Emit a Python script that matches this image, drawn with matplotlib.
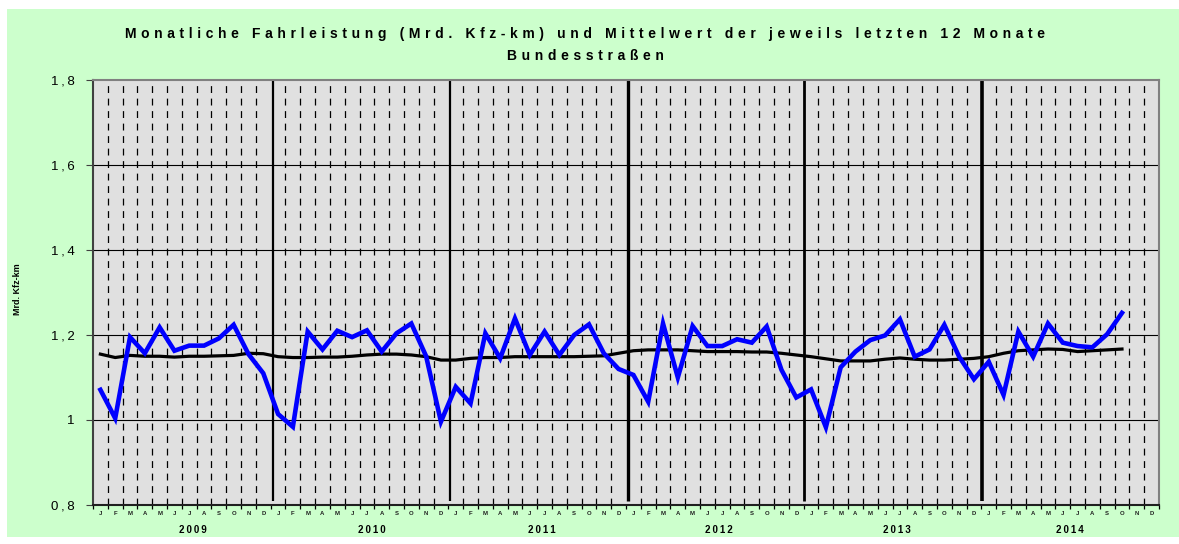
import matplotlib
matplotlib.use('Agg')
import matplotlib.pyplot as plt
from matplotlib.patches import Rectangle
import numpy as np

# ---------------- data ----------------
month_letters = ['J', 'F', 'M', 'A', 'M', 'J', 'J', 'A', 'S', 'O', 'N', 'D']
years = ['2009', '2010', '2011', '2012', '2013', '2014']

monthly = [1.071, 1.004, 1.195, 1.157, 1.218, 1.163, 1.175, 1.175, 1.192, 1.224, 1.155, 1.110,
           1.014, 0.984, 1.208, 1.166, 1.210, 1.195, 1.211, 1.161, 1.204, 1.227, 1.150, 0.996,
           1.078, 1.039, 1.204, 1.145, 1.239, 1.153, 1.208, 1.153, 1.200, 1.225, 1.157, 1.120,
           1.106, 1.043, 1.227, 1.100, 1.221, 1.174, 1.174, 1.190, 1.182, 1.220, 1.118, 1.053,
           1.072, 0.983, 1.124, 1.161, 1.188, 1.199, 1.237, 1.149, 1.166, 1.224, 1.149, 1.096,
           1.137, 1.059, 1.208, 1.149, 1.227, 1.182, 1.174, 1.171, 1.202, 1.252]

mean12 = [1.155, 1.147, 1.152, 1.150, 1.150, 1.148, 1.150, 1.150, 1.151, 1.152, 1.157, 1.156,
          1.149, 1.147, 1.147, 1.148, 1.148, 1.150, 1.153, 1.155, 1.155, 1.153, 1.149, 1.141,
          1.141, 1.145, 1.147, 1.147, 1.149, 1.149, 1.149, 1.149, 1.149, 1.150, 1.151, 1.157,
          1.163, 1.165, 1.165, 1.165, 1.163, 1.161, 1.161, 1.161, 1.160, 1.160, 1.157, 1.153,
          1.149, 1.144, 1.139, 1.139, 1.139, 1.143, 1.146, 1.143, 1.141, 1.141, 1.143, 1.145,
          1.149, 1.157, 1.163, 1.165, 1.167, 1.166, 1.161, 1.163, 1.165, 1.167]

y_ticks = [0.8, 1.0, 1.2, 1.4, 1.6, 1.8]
y_tick_labels = ['0,8', '1', '1,2', '1,4', '1,6', '1,8']

title_line1 = 'Monatliche Fahrleistung (Mrd. Kfz-km) und Mittelwert der jeweils letzten 12 Monate'
title_line2 = 'Bundesstraßen'
y_label = 'Mrd. Kfz-km'


def spaced(s, gap='\u2004'):
    return gap.join(s)


# ---------------- figure ----------------
W, H = 1179, 544
fig = plt.figure(figsize=(W / 100, H / 100), dpi=100)
fig.patch.set_facecolor('white')
fig.patches.append(Rectangle((7 / W, 1 - 537 / H), 1 - 7 / W, (537 - 9) / H,
                             transform=fig.transFigure, facecolor='#CCFFCC',
                             edgecolor='none', zorder=-10))

ax = fig.add_axes([93 / W, 1 - 505 / H, (1159 - 93) / W, (505 - 80) / H])
ax.set_zorder(1)
ax.set_facecolor('#E0E0E0')

n_months = len(years) * 12
ax.set_xlim(0, n_months)
ax.set_ylim(y_ticks[0], y_ticks[-1])

# horizontal gridlines
for yv in y_ticks[1:-1]:
    ax.axhline(yv, color='black', lw=0.8, zorder=1)

# dashed month separators
for b in range(1, n_months):
    if b % 12 == 0:
        continue
    ax.axvline(b, color='black', lw=0.9, ls=(0, (5.5, 4.5)), zorder=1)

# year separators
sep_offsets = [0.15, 0.12, 0.15, 0.05, 0.05]
sep_widths = [1.6, 1.6, 2.4, 2.0, 2.6]
for k in range(1, len(years)):
    ax.plot([12 * k + sep_offsets[k - 1]] * 2, [0.81, 1.8], color='black',
            lw=sep_widths[k - 1], zorder=2, solid_capstyle='butt')

x = np.arange(len(monthly)) + 0.5
ax.plot(x, monthly, color='#0000FF', lw=3.3, zorder=4, solid_joinstyle='miter')
ax.plot(x, mean12, color='black', lw=2.3, zorder=3)

# axes styling
for side in ['top', 'right']:
    ax.spines[side].set_color('#808080')
    ax.spines[side].set_linewidth(1.5)
ax.spines['left'].set_color('#404040')
ax.spines['left'].set_linewidth(1.5)
ax.spines['bottom'].set_color('#202020')
ax.spines['bottom'].set_linewidth(1.5)

ax.set_yticks(y_ticks)
ax.set_yticklabels([spaced(t, '\u2009') for t in y_tick_labels], fontsize=9.5,
                   family=['Liberation Sans', 'DejaVu Sans'])
ax.tick_params(axis='y', direction='out', length=5, width=0.8, color='#404040', pad=8)

ax.set_xticks(np.arange(0, n_months + 1), minor=False)
ax.set_xticklabels([])
ax.tick_params(axis='x', direction='out', length=3, width=0.9, color='black')

# month letters
for i in range(n_months):
    ax.text(i + 0.5, -0.02, month_letters[i % 12], transform=ax.get_xaxis_transform(),
            ha='center', va='center', fontsize=4.3, fontweight='bold',
            family='Liberation Sans', color='#202020')

# year labels
year_pos = [6.76, 18.85, 30.3, 42.3, 54.3, 66.0]
for yr, xp in zip(years, year_pos):
    ax.text(xp, -0.0588, spaced(yr, '\u2009'), transform=ax.get_xaxis_transform(),
            ha='center', va='center', fontsize=7, fontweight='bold',
            family=['Liberation Sans', 'DejaVu Sans'])

# y label
fig.text(17 / W, 1 - 289 / H, y_label, rotation=90, ha='center', va='center',
         fontsize=6.5, fontweight='bold', family='Liberation Sans')

# title
tfam = ['Liberation Sans', 'DejaVu Sans']
fig.text(585 / W, 1 - 34 / H, spaced(title_line1), ha='center', va='center', fontsize=10,
         fontweight='bold', family=tfam)
fig.text(585 / W, 1 - 56 / H, spaced(title_line2), ha='center', va='center', fontsize=10,
         fontweight='bold', family=tfam)

fig.savefig('out.png', dpi=100, facecolor=fig.get_facecolor())
